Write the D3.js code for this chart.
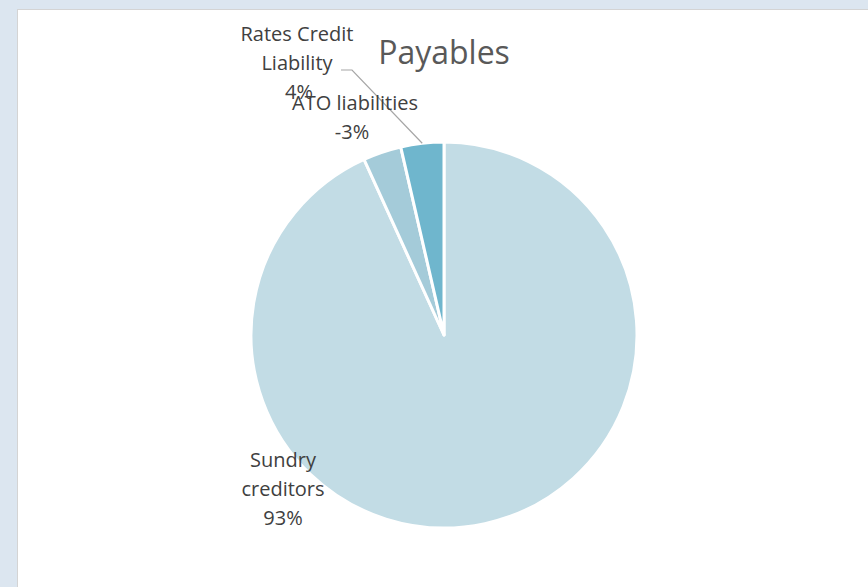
<!DOCTYPE html>
<html>
<head>
<meta charset="utf-8">
<script src="https://cdn.jsdelivr.net/npm/d3@7"></script>
<style>
  html, body { margin: 0; padding: 0; background: #dce6f0; }
  svg { display: block; }
</style>
</head>
<body>
<div id="vis"></div>
<script>
// slices in drawing order, clockwise from 12 o'clock
var categories = ["Sundry creditors", "ATO liabilities", "Rates Credit Liability"];
var values = [93.2, -3.2, 3.6];
var colors = ["#c2dce5", "#a4cbd9", "#6fb6cd"];

// where each data label sits (text lines, centre x, first baseline y)
var labelLayout = {
  "Sundry creditors": { lines: ["Sundry", "creditors"], x: 283, y: 467 },
  "ATO liabilities": { lines: ["ATO liabilities"], x: 355, y: 110 },
  "Rates Credit Liability": { lines: ["Rates Credit", "Liability"], x: 297, y: 41, leader: true }
};

var W = 868, H = 587;
var cx = 444, cy = 335, R = 193;
var lineH = 29;

var svg = d3.select("#vis").append("svg")
  .attr("width", W).attr("height", H);

// chart area
svg.append("rect")
  .attr("x", 17.5).attr("y", 9.5)
  .attr("width", W).attr("height", H)
  .attr("fill", "#ffffff")
  .attr("stroke", "#d4d4d4");

svg.append("text")
  .attr("x", 444).attr("y", 64)
  .attr("text-anchor", "middle")
  .style("font-family", "'Open Sans', sans-serif")
  .style("font-size", "32px")
  .style("fill", "#595959")
  .text("Payables");

var total = d3.sum(values, function(v) { return Math.abs(v); });
var data = categories.map(function(c, i) {
  return { name: c, value: values[i], color: colors[i] };
});

var pie = d3.pie()
  .sort(null)
  .value(function(d) { return Math.abs(d.value); });

var arc = d3.arc().innerRadius(0).outerRadius(R);

var g = svg.append("g").attr("transform", "translate(" + cx + "," + cy + ")");

var arcs = pie(data);

g.selectAll("path")
  .data(arcs)
  .enter().append("path")
  .attr("d", arc)
  .attr("fill", function(d) { return d.data.color; })
  .attr("stroke", "#ffffff")
  .attr("stroke-width", 3)
  .attr("stroke-linejoin", "round");

// leader lines, drawn to the middle of the slice edge
arcs.forEach(function(a) {
  var lay = labelLayout[a.data.name];
  if (!lay.leader) return;
  var mid = (a.startAngle + a.endAngle) / 2;
  var ex = cx + R * Math.sin(mid), ey = cy - R * Math.cos(mid);
  var ly = lay.y + lineH;
  svg.append("path")
    .attr("d", "M" + (lay.x + 44) + "," + ly + "H" + (lay.x + 55) + "L" + ex + "," + ey)
    .attr("fill", "none")
    .attr("stroke", "#a6a6a6")
    .attr("stroke-width", 1.2);
});

// data labels
arcs.forEach(function(a) {
  var lay = labelLayout[a.data.name];
  var pct = Math.round(a.data.value / total * 100) + "%";
  var lines = lay.lines.concat([pct]);
  var t = svg.append("text")
    .attr("text-anchor", "middle")
    .style("font-family", "'Open Sans', sans-serif")
    .style("font-size", "20px")
    .style("fill", "#404040");
  lines.forEach(function(l, i) {
    var last = i === lines.length - 1;
    t.append("tspan")
      .attr("x", lay.x + (last && lay.leader ? 2 : 0) - (last && !lay.leader && lines.length === 2 ? 3 : 0))
      .attr("y", lay.y + i * lineH)
      .text(l);
  });
});
</script>
</body>
</html>
